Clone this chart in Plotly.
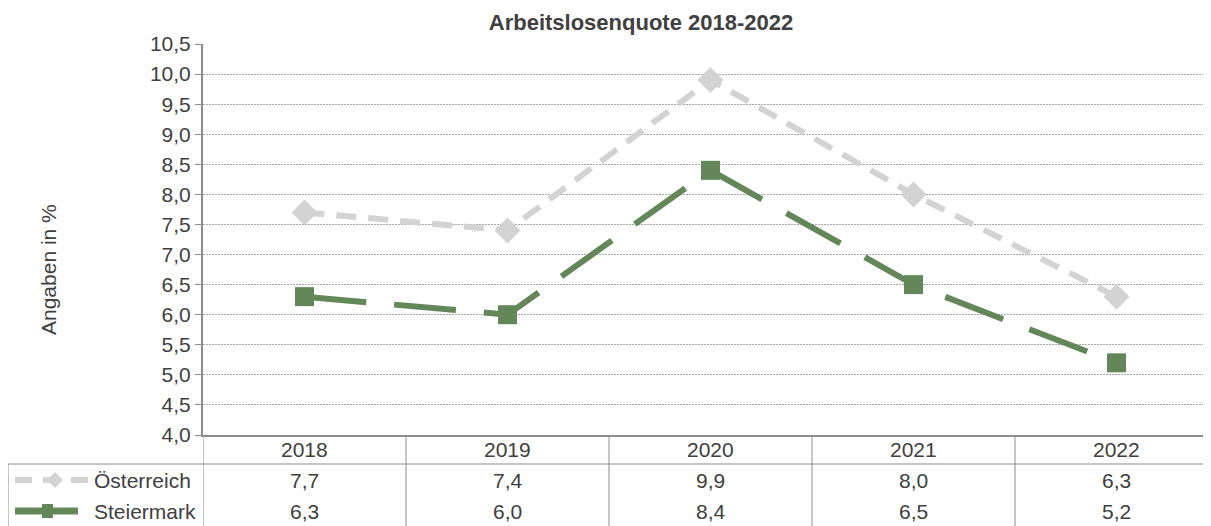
import plotly.graph_objects as go

years = ["2018", "2019", "2020", "2021", "2022"]
oesterreich = [7.7, 7.4, 9.9, 8.0, 6.3]
steiermark = [6.3, 6.0, 8.4, 6.5, 5.2]
series_names = ["Österreich", "Steiermark"]
title_text = "Arbeitslosenquote 2018-2022"
y_title = "Angaben in %"

OFF = 8  # page body margin in the browser
W, H = 1211, 526 - OFF
# reference pixel coordinates (page), converted below
L_ref, T_ref, B_ref = 203, 44, 435
L, T, B = L_ref - OFF, T_ref - OFF, B_ref - OFF
R = W
PW, PH = R - L, B - T
CAT_W = 203.0

GRAY = "#D3D3D3"
GREEN = "#64875A"
TXT = "#404040"
LINE = "#8C8C8C"
FONT = "Liberation Sans, Arial, sans-serif"
FS = 21


def px_x(p):
    return (p - OFF - L) / PW


def px_y(p):
    return (B - (p - OFF)) / PH


xs = list(range(len(years)))
fig = go.Figure()
fig.add_trace(go.Scatter(
    x=xs, y=oesterreich, name=series_names[0], mode="lines+markers",
    line=dict(color=GRAY, width=6, dash="20px,12px"),
    marker=dict(symbol="diamond", size=20, color=GRAY),
    showlegend=False, cliponaxis=False))
fig.add_trace(go.Scatter(
    x=xs, y=steiermark, name=series_names[1], mode="lines+markers",
    line=dict(color=GREEN, width=6, dash="62px,28px"),
    marker=dict(symbol="square", size=19, color=GREEN),
    showlegend=False, cliponaxis=False))

shapes = []
annotations = []

# table horizontal line below the year row
row1 = 464
shapes.append(dict(type="line", xref="paper", yref="paper",
                   x0=px_x(8), x1=1.0, y0=px_y(row1), y1=px_y(row1),
                   line=dict(color=LINE, width=1)))
# left border of legend cells
shapes.append(dict(type="line", xref="paper", yref="paper",
                   x0=px_x(8), x1=px_x(8), y0=px_y(row1), y1=px_y(530),
                   line=dict(color=LINE, width=1)))
# vertical separators between categories
for i in range(len(years)):
    shapes.append(dict(type="line", xref="x", yref="paper",
                       x0=i - 0.5, x1=i - 0.5, y0=0, y1=px_y(530),
                       line=dict(color=LINE, width=1)))

rows_y = [449, 480, 511]
for i, yr in enumerate(years):
    annotations.append(dict(x=i, y=px_y(rows_y[0]), xref="x", yref="paper",
                            text=yr, showarrow=False, xanchor="center", yanchor="middle",
                            font=dict(size=FS, color=TXT, family=FONT)))
    annotations.append(dict(x=i, y=px_y(rows_y[1]), xref="x", yref="paper",
                            text=f"{oesterreich[i]:.1f}".replace(".", ","), showarrow=False,
                            xanchor="center", yanchor="middle",
                            font=dict(size=FS, color=TXT, family=FONT)))
    annotations.append(dict(x=i, y=px_y(rows_y[2]), xref="x", yref="paper",
                            text=f"{steiermark[i]:.1f}".replace(".", ","), showarrow=False,
                            xanchor="center", yanchor="middle",
                            font=dict(size=FS, color=TXT, family=FONT)))

# legend labels in table
for name, ry in zip(series_names, rows_y[1:]):
    annotations.append(dict(x=px_x(92), y=px_y(ry), xref="paper", yref="paper",
                            text=name, showarrow=False, xanchor="left", yanchor="middle",
                            font=dict(size=FS, color=TXT, family=FONT)))

# legend samples
yo = px_y(rows_y[1])
shapes.append(dict(type="line", xref="paper", yref="paper",
                   x0=px_x(15), x1=px_x(88), y0=yo, y1=yo,
                   line=dict(color=GRAY, width=6, dash="17px,11px")))
cx, cy, r = 55, rows_y[1], 8
shapes.append(dict(type="path", xref="paper", yref="paper",
                   path=f"M{px_x(cx - r)},{px_y(cy)} L{px_x(cx)},{px_y(cy - r)} L{px_x(cx + r)},{px_y(cy)} L{px_x(cx)},{px_y(cy + r)} Z",
                   fillcolor=GRAY, line=dict(width=0)))
ys = px_y(rows_y[2])
shapes.append(dict(type="line", xref="paper", yref="paper",
                   x0=px_x(15), x1=px_x(78), y0=ys, y1=ys,
                   line=dict(color=GREEN, width=7)))
shapes.append(dict(type="rect", xref="paper", yref="paper",
                   x0=px_x(42), x1=px_x(53), y0=px_y(rows_y[2] - 7), y1=px_y(rows_y[2] + 7),
                   fillcolor=GREEN, line=dict(width=0)))

# y-axis title
annotations.append(dict(x=px_x(48), y=px_y(270), xref="paper", yref="paper",
                        text=y_title, showarrow=False, textangle=-90,
                        xanchor="center", yanchor="middle",
                        font=dict(size=FS, color=TXT, family=FONT)))

fig.update_layout(
    width=W, height=H,
    margin=dict(l=L, r=W - R, t=T, b=H - B, pad=0),
    paper_bgcolor="white", plot_bgcolor="white",
    separators=", ",
    title=dict(text=f"<b>{title_text}</b>", x=px_x(641), xref="paper", xanchor="center",
               y=1 - (22 - OFF) / H, yref="container", yanchor="middle",
               font=dict(size=22, color=TXT, family=FONT)),
    xaxis=dict(range=[-0.5, -0.5 + PW / CAT_W], showgrid=False, zeroline=False,
               showticklabels=False, ticks="", showline=True, linecolor=LINE, linewidth=2),
    yaxis=dict(range=[4.0, 10.5], dtick=0.5, tick0=4.0, tickformat=".1f",
               showgrid=True, gridcolor="#A6A6A6", gridwidth=1, griddash="2px,1px",
               zeroline=False, showline=True, linecolor=LINE, linewidth=2,
               ticks="outside", ticklen=6, tickcolor=LINE,
               tickfont=dict(size=FS, color=TXT, family=FONT)),
    shapes=shapes, annotations=annotations,
)

fig.write_html("out.html")
